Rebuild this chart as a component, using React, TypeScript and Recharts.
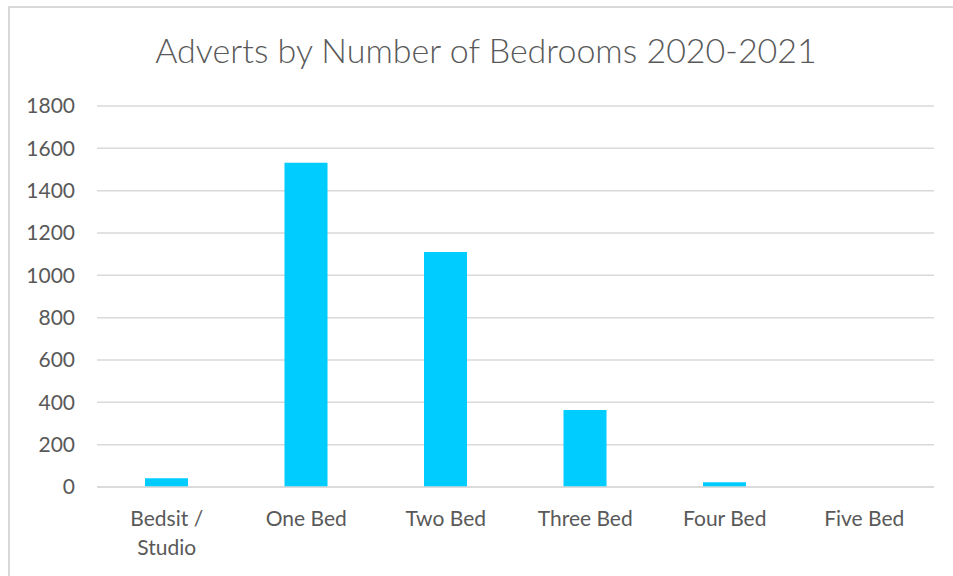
import { BarChart, Bar, XAxis, YAxis, CartesianGrid } from "recharts"

const CATEGORIES = ["Bedsit / Studio", "One Bed", "Two Bed", "Three Bed", "Four Bed", "Five Bed"]
const ADVERTS = [41, 1532, 1110, 364, 22, 0]
const Y_TICKS = [0, 200, 400, 600, 800, 1000, 1200, 1400, 1600, 1800]

const data = CATEGORIES.map((name, i) => ({ name, adverts: ADVERTS[i] }))

const FONT = "Lato, 'Open Sans', sans-serif"
const TEXT = "#595959"

// break "Bedsit / Studio" after the slash like Excel does
const CategoryTick = ({ x, y, payload }: any) => {
  const label: string = payload.value
  const lines = label.includes("/") ? [label.slice(0, label.indexOf("/") + 1), label.slice(label.indexOf("/") + 1).trim()] : [label]
  return (
    <text x={x} y={y} textAnchor="middle" fill={TEXT} fontSize={21} fontFamily={FONT}>
      {lines.map((l, i) => (
        <tspan key={i} x={x} y={y + 37 + i * 29}>
          {l}
        </tspan>
      ))}
    </text>
  )
}

export default function App() {
  return (
    <div style={{ position: "fixed", left: 0, top: 0, width: 953, height: 576, overflow: "hidden", background: "#fff" }}>
      <div
        style={{
          position: "absolute",
          left: 8,
          top: 6,
          width: 980,
          height: 620,
          border: "2px solid #d9d9d9",
          boxSizing: "border-box",
        }}
      />
      <div
        style={{
          position: "absolute",
          left: 0,
          top: 30,
          width: 972,
          textAlign: "center",
          fontFamily: FONT,
          fontSize: 34,
          fontWeight: 300,
          color: TEXT,
          lineHeight: "40px",
        }}
      >
        Adverts by Number of Bedrooms 2020-2021
      </div>
      <div style={{ position: "absolute", left: 0, top: 0 }}>
        <BarChart width={953} height={576} data={data} margin={{ top: 106, right: 19, bottom: 29, left: 0 }}>
          <CartesianGrid vertical={false} stroke="#d9d9d9" strokeWidth={1.5} />
          <XAxis
            dataKey="name"
            height={60}
            tickLine={false}
            tickSize={0}
            axisLine={{ stroke: "#d9d9d9", strokeWidth: 1.5 }}
            tick={<CategoryTick />}
            interval={0}
          />
          <YAxis
            width={97}
            domain={[0, 1800]}
            ticks={Y_TICKS}
            axisLine={false}
            tickLine={false}
            tickSize={0}
            tickMargin={22}
            tick={{ fill: TEXT, fontSize: 21, fontFamily: FONT }}
          />
          <Bar dataKey="adverts" fill="#00CCFF" barSize={43} isAnimationActive={false} />
        </BarChart>
      </div>
    </div>
  )
}
